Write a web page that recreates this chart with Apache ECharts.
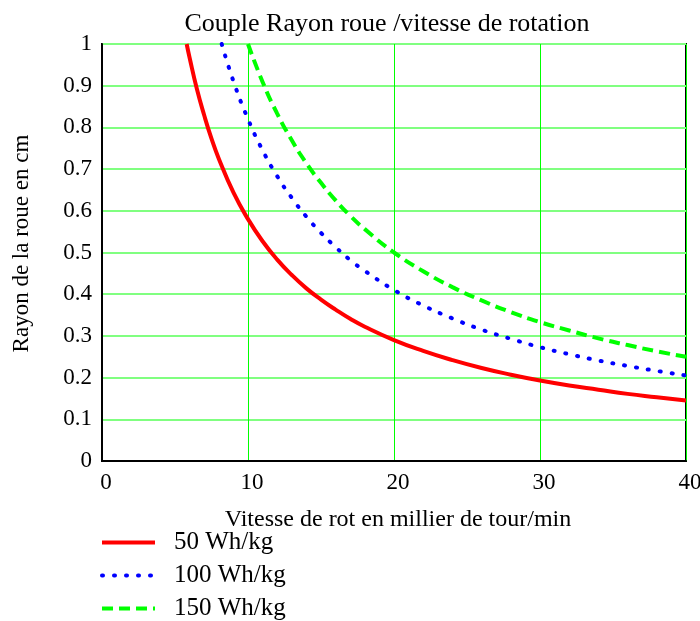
<!DOCTYPE html>
<html>
<head>
<meta charset="utf-8">
<script src="https://cdn.jsdelivr.net/npm/echarts@6/dist/echarts.min.js"></script>
<style>
  html, body { margin: 0; padding: 0; background: #fff; }
  #main { width: 700px; height: 621px; }
</style>
</head>
<body>
<div id="main"></div>
<script>
// vitesse (millier tr/min) et rayon (cm)
const speed50 = [5.8, 6, 6.5, 7, 7.5, 8, 9, 10, 11, 12, 13, 14, 15, 16, 17, 18, 20, 22, 24, 26, 28, 30, 32, 34, 36, 38, 40]
const radius50 = [1.0, 0.967, 0.892, 0.829, 0.773, 0.725, 0.644, 0.58, 0.527, 0.483, 0.446, 0.414, 0.387, 0.363, 0.341, 0.322, 0.29, 0.264, 0.242, 0.223, 0.207, 0.193, 0.181, 0.171, 0.161, 0.153, 0.145]

const speed100 = [8.2, 9, 10, 11, 12, 13, 14, 15, 16, 17, 18, 20, 22, 24, 26, 28, 30, 32, 34, 36, 38, 40]
const radius100 = [1.0, 0.911, 0.82, 0.745, 0.683, 0.631, 0.586, 0.547, 0.513, 0.482, 0.456, 0.41, 0.373, 0.342, 0.315, 0.293, 0.273, 0.256, 0.241, 0.228, 0.216, 0.205]

const speed150 = [10, 11, 12, 13, 14, 15, 16, 17, 18, 20, 22, 24, 26, 28, 30, 32, 34, 36, 38, 40]
const radius150 = [1.0, 0.909, 0.833, 0.769, 0.714, 0.667, 0.625, 0.588, 0.556, 0.5, 0.455, 0.417, 0.385, 0.357, 0.333, 0.313, 0.294, 0.278, 0.263, 0.25]

const seriesNames = ['50 Wh/kg', '100 Wh/kg', '150 Wh/kg']

function pairs(xs, ys) {
  let out = []
  for (let i = 0; i < xs.length; i++) {
    out.push([xs[i], ys[i]])
  }
  return out
}

const font = 'Liberation Serif'
let chart = echarts.init(document.getElementById('main'))

chart.setOption({
  animation: false,
  backgroundColor: '#fff',
  title: {
    text: 'Couple Rayon roue /vitesse de rotation',
    left: 382,
    top: 6,
    textAlign: 'center',
    textStyle: { fontFamily: font, fontWeight: 'normal', fontSize: 26, color: '#000' }
  },
  grid: {
    left: 102, top: 44, width: 584, height: 417,
    outerBoundsMode: 'none',
    containLabel: false,
    show: true, borderColor: '#000', borderWidth: 2
  },
  legend: {
    orient: 'vertical',
    left: 100,
    top: 530,
    padding: 0,
    itemWidth: 53,
    itemHeight: 14,
    itemGap: 8,
    data: seriesNames,
    itemStyle: { opacity: 0 },
    lineStyle: { width: 4 },
    textStyle: { fontFamily: font, fontSize: 25, color: '#000', padding: [0, 0, 0, 14] }
  },
  xAxis: {
    type: 'value',
    min: 0, max: 40, interval: 10,
    name: 'Vitesse de rot en millier de tour/min',
    nameLocation: 'middle',
    nameGap: 47,
    nameTextStyle: { fontFamily: font, fontSize: 24, color: '#000', padding: [0, 0, 0, 8] },
    axisLine: { show: true, lineStyle: { color: '#000', width: 2 } },
    axisTick: { show: false },
    axisLabel: { fontFamily: font, fontSize: 23, color: '#000', margin: 10, padding: [0, 0, 0, 8] },
    splitLine: { show: true, lineStyle: { color: '#00ff00', width: 1 } }
  },
  yAxis: {
    type: 'value',
    min: 0, max: 1, interval: 0.1,
    name: 'Rayon de la roue en cm',
    nameLocation: 'middle',
    nameGap: 69,
    nameTextStyle: { fontFamily: font, fontSize: 23, color: '#000', padding: [0, 0, 0, 18] },
    axisLine: { show: true, lineStyle: { color: '#000', width: 2 } },
    axisTick: { show: false },
    axisLabel: { fontFamily: font, fontSize: 23, color: '#000', margin: 10, padding: [12, 0, 0, 0] },
    splitLine: { show: true, lineStyle: { color: '#80ff80', width: 2 } }
  },
  series: [
    {
      name: seriesNames[0],
      type: 'line',
      data: pairs(speed50, radius50),
      smooth: true,
      symbol: 'none',
      clip: true,
      color: '#ff0000',
      lineStyle: { color: '#ff0000', width: 4 }
    },
    {
      name: seriesNames[1],
      type: 'line',
      data: pairs(speed100, radius100),
      smooth: true,
      symbol: 'none',
      clip: true,
      color: '#0000ff',
      lineStyle: { color: '#0000ff', width: 4, type: [1, 11], cap: 'round' }
    },
    {
      name: seriesNames[2],
      type: 'line',
      data: pairs(speed150, radius150),
      smooth: true,
      symbol: 'none',
      clip: true,
      color: '#00ff00',
      lineStyle: { color: '#00ff00', width: 4, type: [11, 6] }
    }
  ]
})
</script>
</body>
</html>
